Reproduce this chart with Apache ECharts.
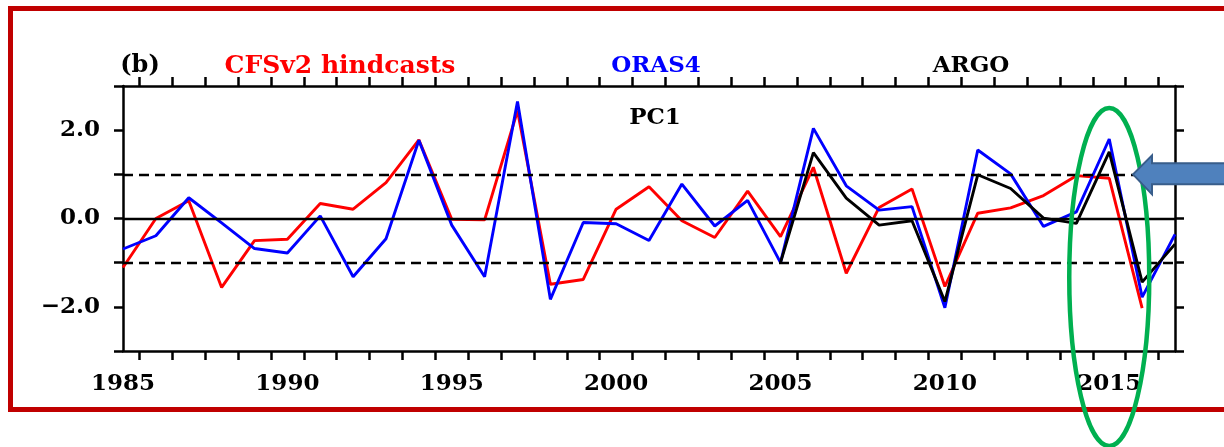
<!DOCTYPE html>
<html>
<head>
<meta charset="utf-8">
<script src="https://cdn.jsdelivr.net/npm/echarts@6/dist/echarts.min.js"></script>
<style>
html,body{margin:0;padding:0;background:#ffffff;}
#chart{width:1224px;height:447px;}
</style>
</head>
<body>
<div id="chart"></div>
<script>
// ---- data ----
const years = [1985,1986,1987,1988,1989,1990,1991,1992,1993,1994,1995,1996,1997,1998,1999,2000,
               2001,2002,2003,2004,2005,2006,2007,2008,2009,2010,2011,2012,2013,2014,2015,2016,2017];
const cfsv2 = [-1.11,0.00,0.40,-1.56,-0.50,-0.47,0.34,0.21,0.81,1.78,-0.02,-0.03,2.44,-1.49,-1.38,0.21,
               0.72,-0.05,-0.43,0.62,-0.41,1.16,-1.24,0.25,0.67,-1.54,0.12,0.24,0.52,0.97,0.91,-2.03,null];
const oras4 = [-0.69,-0.39,0.47,-0.10,-0.68,-0.78,0.06,-1.32,-0.46,1.77,-0.15,-1.32,2.65,-1.83,-0.09,-0.12,
               -0.50,0.78,-0.17,0.41,-1.00,2.04,0.74,0.19,0.27,-2.02,1.55,1.01,-0.18,0.15,1.80,-1.78,-0.36];
const argo  = [null,null,null,null,null,null,null,null,null,null,null,null,null,null,null,null,
               null,null,null,null,-1.00,1.49,0.46,-0.15,-0.05,-1.88,0.99,0.68,0.01,-0.11,1.51,-1.44,-0.58];
const seriesNames = ['CFSv2 hindcasts','ORAS4','ARGO'];
const seriesColors = ['#ff0000','#0000ff','#000000'];
const xLabelYears = [1985,1990,1995,2000,2005,2010,2015];
const yLabelValues = [2,0,-2];
const yLabelTexts = ['2.0','0.0','\u22122.0'];
const refLineValues = [0,1,-1];
const panelLabel = '(b)';
const panelTitle = 'PC1';
const highlightYear = 2015;

// ---- chart ----
const FONT = 'DejaVu Serif';
const chart = echarts.init(document.getElementById('chart'), null, {renderer:'canvas'});

function pairs(vals){ return years.map((y,i)=>[y, vals[i]]); }

const axisLineStyle = {color:'#000', width:2.5};
function xAxisCfg(pos, showLabel){
  return {
    type:'value', position:pos, min:1985, max:2017, interval:1,
    splitLine:{show:false},
    axisLine:{show:true, onZero:false, lineStyle:axisLineStyle},
    axisTick:{show:false},
    minorTick:{show:true, splitNumber:2, length:9, lineStyle:{color:'#000', width:2.5}},
    axisLabel:{show:showLabel, margin:22, color:'#000', fontFamily:FONT, fontWeight:'bold', fontSize:23,
      formatter:function(v){ const r=Math.round(v); return xLabelYears.indexOf(r)>=0 ? String(r) : ''; }}
  };
}
function yAxisCfg(pos, showLabel){
  return {
    type:'value', position:pos, min:-3, max:3, interval:1,
    splitLine:{show:false},
    axisLine:{show:true, onZero:false, lineStyle:axisLineStyle},
    axisTick:{show:true, length:9, lineStyle:{color:'#000', width:2.5}},
    axisLabel:{show:showLabel, margin:23, color:'#000', fontFamily:FONT, fontWeight:'bold', fontSize:23,
      formatter:function(v){ const r=Math.round(v); const k=yLabelValues.indexOf(r); return k>=0 ? yLabelTexts[k] : ''; }}
  };
}

const refLines = refLineValues.map(v=>({
  yAxis:v,
  lineStyle:{color:'#000', width:2.4, type: v===0 ? 'solid' : [10,6]}
}));

const dataSeries = [cfsv2, oras4, argo].map((vals,i)=>({
  name:seriesNames[i], type:'line', xAxisIndex:0, yAxisIndex:0,
  data:pairs(vals), showSymbol:false, symbol:'none', connectNulls:false,
  lineStyle:{color:seriesColors[i], width:2.9}, itemStyle:{color:seriesColors[i]},
  z:3+i, animation:false
}));

const option = {
  animation:false,
  backgroundColor:'#ffffff',
  grid:{left:123, right:49, top:86, bottom:96, containLabel:false},
  xAxis:[xAxisCfg('bottom', true), xAxisCfg('top', false)],
  yAxis:[yAxisCfg('left', true), yAxisCfg('right', false)],
  series:[{
    name:'ref', type:'line', data:[], xAxisIndex:0, yAxisIndex:0, z:2, silent:true,
    markLine:{silent:true, symbol:['none','none'], label:{show:false}, data:refLines, animation:false}
  }].concat(dataSeries)
};
chart.setOption(option);

// ---- annotations ----
const px2015 = chart.convertToPixel({xAxisIndex:0, yAxisIndex:0}, [highlightYear, 1]);
const cx = px2015[0], yOne = px2015[1];
const titleTexts = [
  {text:panelLabel, x:140, color:'#000', size:24},
  {text:seriesNames[0], x:340, color:seriesColors[0], size:25},
  {text:seriesNames[1], x:656, color:seriesColors[1]},
  {text:seriesNames[2], x:971, color:seriesColors[2]}
];
const graphics = [
  {type:'rect', silent:true, z:100, shape:{x:10.5, y:8.5, width:1240, height:401},
   style:{fill:null, stroke:'#c00000', lineWidth:5}},
  {type:'ellipse', silent:true, z:100, shape:{cx:cx, cy:277, rx:40, ry:169},
   style:{fill:null, stroke:'#00b050', lineWidth:4.5}},
  {type:'polygon', silent:true, z:100,
   shape:{points:[[1133,yOne],[1152,yOne-19],[1152,yOne-11],[1240,yOne-11],[1240,yOne+10],[1152,yOne+10],[1152,yOne+20]]},
   style:{fill:'#4f81bd', stroke:'#385d8a', lineWidth:2}},
  {type:'text', silent:true, z:100, style:{text:panelTitle, x:655, y:118.5, align:'center', verticalAlign:'middle',
   font:'bold 23px "'+FONT+'"', fill:'#000'}}
].concat(titleTexts.map(t=>({
  type:'text', silent:true, z:100,
  style:{text:t.text, x:t.x, y:66, align:'center', verticalAlign:'middle',
         font:'bold '+(t.size||23)+'px "'+FONT+'"', fill:t.color}
})));
chart.setOption({graphic:graphics});
</script>
</body>
</html>
